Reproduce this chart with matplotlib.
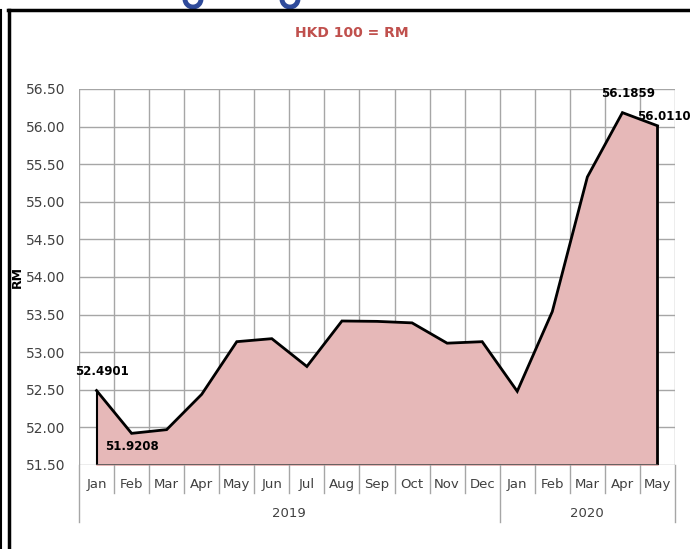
import matplotlib.pyplot as plt
import matplotlib.transforms as mtransforms
from matplotlib.patches import Arc
import numpy as np

months = ['Jan', 'Feb', 'Mar', 'Apr', 'May', 'Jun', 'Jul', 'Aug', 'Sep',
          'Oct', 'Nov', 'Dec', 'Jan', 'Feb', 'Mar', 'Apr', 'May']
years = ['2019', '2020']
year_spans = [(0, 12), (12, 17)]
rates = [52.4901, 51.9208, 51.97, 52.44, 53.14, 53.18, 52.81, 53.415, 53.41,
         53.39, 53.12, 53.14, 52.48, 53.54, 55.33, 56.1859, 56.0110]
labelled = {0: 'above', 1: 'below', 15: 'above', 16: 'right'}

plt.rcParams['font.family'] = ['DejaVu Sans']
fig = plt.figure(figsize=(6.9, 5.49), dpi=100)
ax = fig.add_axes([79 / 690, 1 - 465 / 549, 596 / 690, 376 / 549])

x = np.arange(len(months)) + 0.5
ymin = 51.5
ax.fill_between(x, rates, ymin, color='#e6b8b8', zorder=2)
ax.plot(x, rates, color='black', lw=2, zorder=4, solid_joinstyle='miter')
ax.plot([x[0], x[0]], [ymin, rates[0]], color='black', lw=1.5, zorder=4)
ax.plot([x[-1], x[-1]], [ymin, rates[-1]], color='black', lw=2, zorder=4)
ax.plot([x[0], x[-1]], [ymin, ymin], color='#505050', lw=1.2, zorder=4)

ax.set_xlim(0, len(months))
ax.set_ylim(51.5, 56.5)
ax.set_yticks(np.arange(51.5, 56.51, 0.5))
ax.set_yticklabels([f'{v:.2f}' for v in np.arange(51.5, 56.51, 0.5)],
                   fontsize=10, color='#404040')
ax.tick_params(axis='y', length=0, pad=10)
ax.set_xticks([])
ax.grid(axis='y', color='#a6a6a6', lw=1, zorder=1)
for s in ax.spines.values():
    s.set_visible(False)

trans = mtransforms.blended_transform_factory(ax.transData, ax.transAxes)
boundaries = [b for span in year_spans for b in span]
for i in range(len(months) + 1):
    ax.plot([i, i], [0, 1], color='#a6a6a6', lw=1, zorder=1, transform=trans)
    low = -0.152 if i in boundaries else -0.075
    ax.plot([i, i], [low, 0], color='#a6a6a6', lw=1, transform=trans, clip_on=False)
for xi, m in zip(x, months):
    ax.text(xi, -0.053, m, transform=trans, ha='center', va='center',
            fontsize=9.5, color='#404040')
for yr, (a, b) in zip(years, year_spans):
    ax.text((a + b) / 2, -0.128, yr, transform=trans, ha='center', va='center',
            fontsize=9.5, color='#404040')

for i, pos in labelled.items():
    txt = f'{rates[i]:.4f}'
    if pos == 'above':
        ax.annotate(txt, (x[i], rates[i]), xytext=(4, 9), textcoords='offset points',
                    ha='center', va='bottom', fontsize=8.5, fontweight='bold', zorder=5)
    elif pos == 'below':
        ax.annotate(txt, (x[i], rates[i]), xytext=(0, -5), textcoords='offset points',
                    ha='center', va='top', fontsize=8.5, fontweight='bold', zorder=5)
    else:
        ax.annotate(txt, (x[i], rates[i]), xytext=(-15, 2), textcoords='offset points',
                    ha='left', va='bottom', fontsize=8.5, fontweight='bold', zorder=5,
                    annotation_clip=False)

ax.set_ylabel('RM', fontsize=9, fontweight='bold')
ax.yaxis.set_label_coords(-0.093, 0.5)
fig.text(352 / 690, 1 - 33 / 549, 'HKD 100 = RM', ha='center', va='center',
         fontsize=10, fontweight='bold', color='#c0504d')

# frame lines around the panel
fig.add_artist(plt.Line2D([1 / 690, 1 / 690], [0, 1 - 10 / 549], color='black', lw=1.5))
fig.add_artist(plt.Line2D([9 / 690, 9 / 690], [0, 1 - 10 / 549], color='black', lw=2.5))
fig.add_artist(plt.Line2D([8 / 690, 1], [1 - 10 / 549, 1 - 10 / 549], color='black', lw=2.5))
for cx in (193, 290):
    fig.add_artist(Arc((cx / 690, 1 + 1 / 549), 16 / 690, 16 / 549,
                       transform=fig.transFigure, color='#2e4a9a', lw=3.5))

fig.savefig('out.png', dpi=100)
